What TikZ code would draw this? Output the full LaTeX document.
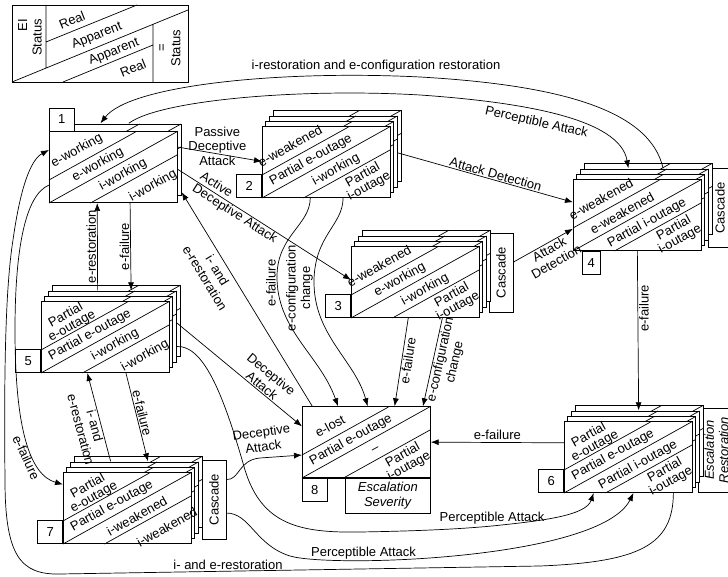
\documentclass[tikz,border=0pt]{standalone}
\usepackage{fontspec}
\setmainfont{Liberation Sans}
\usepackage{graphicx}
\usetikzlibrary{calc,arrows.meta}

\tikzset{
  stbox/.style={draw, fill=white, minimum width=128pt, minimum height=71pt, inner sep=0pt, anchor=south west},
  region/.style={rotate=29, align=center, inner sep=0pt, font=\fontsize{13}{12.5}\selectfont},
  numbox/.style={draw, fill=white, minimum width=25pt, minimum height=23pt, inner sep=0pt},
  side/.style={draw, fill=white, minimum width=24pt, minimum height=79pt, inner sep=0pt},
  arr/.style={-{Latex[length=8pt,width=6pt]}},
  lab/.style={inner sep=1pt, align=center},
}

% state box: name, lower left corner, back layers, four region texts
\newcommand{\statebox}[7]{%
  \foreach \dx/\dy in {#3}{%
    \draw[fill=white] ($(#2)+(\dx,\dy)$) rectangle +(128,-71);
    \draw ($(#2)+(\dx,\dy)$) -- +(128,-71)
      ($(#2)+(\dx,\dy-23)$) -- +(86.5,-48)
      ($(#2)+(\dx+41.5,\dy)$) -- +(86.5,-48);
  }
  \node[stbox] (#1) at (#2) {};
  \draw (#1.south west) -- (#1.north east)
    ($(#1.south west)+(0,-23)$) -- +(86.5,-48)
    ($(#1.south west)+(41.5,0)$) -- +(86.5,-48);
  \node[region] (#1r1) at ($(#1.south west)+(28,-52)$) {#4};
  \node[region] (#1r2) at ($(#1.south west)+(49,-38)$) {#5};
  \node[region] (#1r3) at ($(#1.south west)+(74,-28)$) {#6};
  \node[region] (#1r4) at ($(#1.south west)+(104,-17)$) {#7};
}

\begin{document}
\begin{tikzpicture}[x=1pt, y=-1pt, line width=0.7pt, font=\fontsize{13}{14.5}\selectfont]
\useasboundingbox (0,0) rectangle (728,577);

% legend
\draw (12,5) rectangle (188,82);
\draw (12,82) -- (188,10) (46,5) -- (46,68) (46,42) -- (137,5)
  (153,24.4) -- (153,82) (63,82) -- (153,45);
\node[rotate=90, align=right, inner sep=0pt] (lg1) at (30,37.5) {EI\\Status};
\node[rotate=22, inner sep=0pt] (lg2) at (72,20) {Real};
\node[rotate=22, inner sep=0pt] (lg3) at (97,36) {Apparent};
\node[rotate=22, inner sep=0pt] (lg4) at (114,52) {Apparent};
\node[rotate=22, inner sep=0pt] (lg5) at (133,68) {Real};
\node[rotate=90, align=center, inner sep=0pt] (lg6) at (170,48) {=\\Status};

% side boxes
\node[side] (c3) at (501,272.5) {\rotatebox{90}{Cascade}};
\node[side] (c4) at (720,208) {\rotatebox{90}{Cascade}};
\node[side] (c7) at (214,499.5) {\rotatebox{90}{Cascade}};
\node[side, rotate=90, minimum width=84pt, minimum height=37pt, align=center] (e6) at (716.5,450) {\textit{Escalation}\\\textit{Restoration}};

% states
\statebox{b1}{49,203}{4/-8}{e-working}{e-working}{i-working}{i-working}
\node[numbox, anchor=south west] (n1) at (b1.north west) {1};
\statebox{b2}{262,198}{11/-16.5,7.4/-11,3.7/-5.5}{e-weakened}{Partial e-outage}{i-working}{Partial\\i-outage}
\node[numbox, anchor=south east] (n2) at (b2.south west) {2};
\statebox{b3}{351,318}{11/-16.5,7.4/-11,3.7/-5.5}{e-weakened}{e-working}{i-working}{Partial\\i-outage}
\node[numbox, anchor=south east] (n3) at (b3.south west) {3};
\statebox{b4}{573,251}{11/-16.5,7.4/-11,3.7/-5.5}{e-weakened}{e-weakened}{Partial i-outage}{Partial\\i-outage}
\node[numbox, minimum width=18pt, anchor=north west] (n4) at ([xshift=9pt]b4.south west) {4};
\statebox{b5}{41,373}{11/-16.5,7.4/-11,3.7/-5.5}{Partial\\e-outage}{Partial e-outage}{i-working}{i-working}
\node[numbox, anchor=south east] (n5) at (b5.south west) {5};
\statebox{b6}{564,493}{11/-16.5,7.4/-11,3.7/-5.5}{Partial\\e-outage}{Partial e-outage}{Partial i-outage}{Partial\\i-outage}
\node[numbox, anchor=south east] (n6) at (b6.south west) {6};
\statebox{b7}{63,544}{11/-16.5,7.4/-11,3.7/-5.5}{Partial\\e-outage}{Partial e-outage}{i-weakened}{i-weakened}
\node[numbox, anchor=south east] (n7) at (b7.south west) {7};
\statebox{b8}{302,478}{0/0}{e-lost}{Partial e-outage}{--}{Partial\\i-outage}
\node[numbox, anchor=north west] (n8) at (b8.south west) {8};
\node[draw, anchor=north east, minimum width=85pt, minimum height=35pt, align=center, inner sep=0pt] (e8) at (b8.south east) {\textit{Escalation}\\\textit{Severity}};

% arcs over the top
\draw[arr] ($(b4.north west)!0.7!(b4.north east)+(0,-11)$) .. controls (650,110) and (560,85) .. (420,77)
  node[lab, above=3pt, xshift=-44pt] (t1) {i-restoration and e-configuration restoration}
  .. controls (280,70) and (130,85) .. ($(b1.north west)!0.4!(b1.north east)+(0,-8)$);
\draw[arr] ($(b1.north west)!0.62!(b1.north east)+(0,-8)$) .. controls (160,100) and (300,88) .. (420,95)
  .. controls (520,102) and (620,118) .. node[lab, pos=0.42, sloped, below=5pt] (t2) {Perceptible Attack}
  ($(b4.north west)!0.43!(b4.north east)+(0,-11)$);

% attacks
\draw[arr] ($(b1.north east)!0.22!(b1.south east)$) -- node[lab, midway, xshift=-2.5pt, yshift=8pt] (t3) {Passive\\Deceptive\\Attack} ($(b2.north west)!0.49!(b2.south west)$);
\draw[arr] ($(b1.north east)!0.53!(b1.south east)$) -- node[lab, pos=0.35, sloped, align=left] (t4) {Active\\Deceptive Attack} ($(b3.north west)!0.47!(b3.south west)$);
\draw[arr] ($(b2.north east)!0.37!(b2.south east)+(7,0)$) -- node[lab, pos=0.55, sloped, above] (t5) {Attack Detection} ($(b4.north west)!0.32!(b4.south west)$);
\draw[arr] ($(c3.north east)!0.37!(c3.south east)$) -- node[lab, pos=0.55, sloped, below] (t6) {Attack\\Detection} ($(b4.north west)!0.69!(b4.south west)$);

% between 1 and 5
\draw[arr] ($(b5.north west)!0.44!(b5.north east)+(0,-11)$) -- node[lab, rotate=90, anchor=south] (t7) {e-restoration} ($(b1.south west)!0.375!(b1.south east)$);
\draw[arr] ($(b1.south west)!0.63!(b1.south east)$) -- node[lab, rotate=90, anchor=south] (t8) {e-failure} ($(b5.north west)!0.7!(b5.north east)+(0,-11)$);
\draw[arr] ($(b8.north west)!0.08!(b8.north east)$) -- node[lab, pos=0.66, sloped, below=4pt] (t9) {i- and\\e-restoration} ($(b1.north east)!0.85!(b1.south east)+(4,0)$);

% into 8
\draw[arr] ($(b2.south west)!0.375!(b2.south east)$) .. controls (310,225) and (278,235) .. (277,275)
  .. controls (276,330) and (320,355) .. node[lab, pos=0.05, rotate=90, anchor=south] (t10) {e-failure} ($(b8.north west)!0.28!(b8.north east)$);
\draw[arr] ($(b2.south west)!0.63!(b2.south east)$) .. controls (343,225) and (315,235) .. (314,280)
  .. controls (313,335) and (355,360) .. node[lab, pos=0.05, rotate=90, anchor=south] (t11) {e-configuration\\change} ($(b8.north west)!0.51!(b8.north east)$);
\draw[arr] ($(b3.south west)!0.445!(b3.south east)$) -- node[lab, pos=0.47, sloped, below] (t12) {e-failure} ($(b8.north west)!0.72!(b8.north east)$);
\draw[arr] ($(b3.south west)!0.71!(b3.south east)$) -- node[lab, pos=0.45, sloped, below] (t13) {e-configuration\\change} ($(b8.north west)!0.94!(b8.north east)$);
\draw[arr] ($(b5.north east)!0.3!(b5.south east)+(7,0)$) -- node[lab, pos=0.65, sloped, above] (t14) {Deceptive\\Attack} ($(b8.north west)!0.28!(b8.south west)$);
\draw[arr] ($(c7.north east)!0.25!(c7.south east)$) .. controls (240,480) and (238,460) .. (260,458)
  -- node[lab, pos=0.1, above=5pt, rotate=8] (t21) {Deceptive\\Attack} ($(b8.north west)!0.68!(b8.south west)$);
\draw[arr] ($(b6.north west)!0.3!(b6.south west)$) -- node[lab, above=2pt] (t22) {e-failure} ($(b8.north east)!0.5!(b8.south east)$);

% between 5 and 7
\draw[arr] ($(b5.south west)!0.66!(b5.south east)$) -- node[lab, pos=0.47, sloped, above] (t16) {e-failure} ($(b7.north west)!0.66!(b7.north east)+(0,-11)$);
\draw[arr] ($(b7.north west)!0.37!(b7.north east)+(0,-11)$) -- node[lab, pos=0.42, sloped, below] (t17) {i- and\\e-restoration} ($(b5.south west)!0.36!(b5.south east)$);
\draw[arr] ($(b1.north west)!0.75!(b1.south west)$) .. controls (25,195) and (15,250) .. (15,330)
  .. controls (15,430) and (30,475) .. node[lab, pos=0.6, sloped, below] (t18) {e-failure} ($(b7.north west)!0.17!(b7.south west)$);

% into 6
\draw[arr] ($(b4.south west)!0.5!(b4.south east)$) -- node[lab, pos=0.36, rotate=90, anchor=north] (t23) {e-failure} ($(b6.north west)!0.58!(b6.north east)+(0,-11)$);
\draw[arr] ($(b5.north east)!0.63!(b5.south east)+(7,0)$) .. controls (205,345) and (225,400) .. (245,470)
  .. controls (262,525) and (300,533) .. (360,532)
  .. controls (420,531) and (460,529) .. (492,526) node[lab, sloped, above] (t15) {Perceptible Attack}
  .. controls (540,521) and (586,516) .. ($(b6.south west)!0.23!(b6.south east)$);
\draw[arr] ($(c7.north east)!0.67!(c7.south east)$) .. controls (250,513) and (255,545) .. (290,556)
  .. controls (330,568) and (600,560) .. node[lab, pos=0.27, above] (t20) {Perceptible Attack} ($(b6.south west)!0.54!(b6.south east)$);

% back to 1 round the outside
\draw[arr] ($(b6.south west)!0.85!(b6.south east)$) .. controls (673,545) and (640,562) .. (540,566)
  -- node[lab, pos=0.65, above] (t19) {i- and e-restoration} (60,574)
  .. controls (20,575) and (5,555) .. (5,480) .. controls (4,380) and (5,290) .. (13,240)
  .. controls (20,190) and (30,160) .. ($(b1.north west)!0.26!(b1.south west)$);
\end{tikzpicture}
\end{document}
